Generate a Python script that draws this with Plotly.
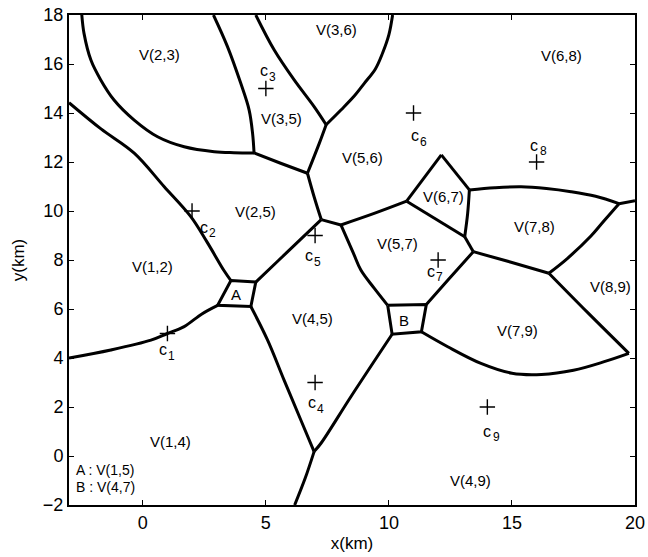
import plotly.graph_objects as go

# ---- boundary curves (x, y) in km ----
b_23_25 = [(-2.48, 18.0), (-2.39, 17.25), (-2.11, 16.16), (-1.71, 15.35), (-1.17, 14.53),
           (-0.35, 13.71), (0.6, 13.03), (1.68, 12.62), (2.9, 12.42), (3.7, 12.38), (4.52, 12.37)]
b_23_35 = [(2.87, 18.0), (3.44, 16.71), (3.98, 15.21), (4.32, 14.12), (4.46, 13.17), (4.52, 12.37)]
b_35_36 = [(4.59, 18.0), (5.34, 16.57), (6.15, 15.35), (6.96, 14.26), (7.45, 13.52)]
b_36_56 = [(7.45, 13.52), (8.05, 14.12), (8.6, 14.7), (9.0, 15.21), (9.45, 15.8),
           (9.74, 16.44), (10.0, 17.2), (10.15, 18.0)]
b_35_25 = [(4.52, 12.37), (5.6, 11.95), (6.69, 11.54)]
b_35_56 = [(7.45, 13.52), (7.17, 12.76), (6.69, 11.54)]
b_25_56 = [(6.69, 11.54), (6.96, 10.58), (7.25, 9.65)]
b_25_45 = [(7.25, 9.65), (6.42, 8.85), (5.5, 7.97), (4.59, 7.10)]
b_56_45 = [(7.25, 9.65), (8.05, 9.43)]
b_57_45 = [(8.05, 9.43), (8.56, 8.27), (8.86, 7.59), (9.4, 6.85), (9.95, 6.15)]
b_56_57 = [(8.05, 9.43), (9.4, 9.9), (10.72, 10.40)]
b_56_67 = [(10.72, 10.40), (12.13, 12.29)]
b_68_67 = [(12.13, 12.29), (13.27, 10.86)]
b_57_67 = [(10.72, 10.40), (13.08, 8.95)]
b_67_78 = [(13.27, 10.86), (13.2, 9.9), (13.08, 8.95)]
b_57_78 = [(13.08, 8.95), (13.43, 8.34)]
b_57_79 = [(13.43, 8.34), (12.40, 7.18), (11.52, 6.18)]
b_78_79 = [(13.43, 8.34), (15.0, 7.9), (16.5, 7.46)]
b_68_78 = [(13.27, 10.86), (14.3, 10.95), (15.37, 10.99), (16.4, 10.92), (17.4, 10.79),
           (18.4, 10.6), (19.35, 10.30)]
b_68_89 = [(19.35, 10.30), (20.0, 10.42)]
b_78_89 = [(19.35, 10.30), (18.7, 9.55), (18.21, 8.98), (17.26, 8.07), (16.5, 7.46)]
b_79_89 = [(16.5, 7.46), (18.08, 5.85), (19.75, 4.19)]
b_79_49 = [(19.75, 4.19), (18.75, 3.85), (17.5, 3.5), (16.2, 3.33), (15.0, 3.38),
           (13.74, 3.78), (12.39, 4.46), (11.32, 5.07)]
b_45_49 = [(10.13, 4.97), (8.46, 2.43), (7.24, 0.52), (6.96, 0.18)]
b_14_49 = [(6.96, 0.18), (6.6, -0.9), (6.17, -2.0)]
b_14_45 = [(4.39, 6.10), (5.07, 4.73), (5.74, 3.1), (6.42, 1.47), (6.96, 0.18)]
b_12_14 = [(3.04, 6.15), (2.4, 5.8), (1.68, 5.28), (1.0, 5.0), (0.33, 4.73), (-1.30, 4.33), (-3.0, 4.0)]
b_12_25 = [(3.58, 7.16), (3.31, 7.55), (2.6, 8.75), (1.95, 9.77), (0.87, 10.99),
           (-0.35, 12.36), (-1.7, 13.35), (-3.0, 14.42)]
cell_A = [(3.58, 7.16), (4.59, 7.10), (4.39, 6.10), (3.04, 6.15), (3.58, 7.16)]
cell_B = [(9.95, 6.15), (11.52, 6.18), (11.32, 5.07), (10.13, 4.97), (9.95, 6.15)]

boundaries = [b_23_25, b_23_35, b_35_36, b_36_56, b_35_25, b_35_56, b_25_56, b_25_45,
              b_56_45, b_57_45, b_56_57, b_56_67, b_68_67, b_57_67, b_67_78, b_57_78,
              b_57_79, b_78_79, b_68_78, b_68_89, b_78_89, b_79_89, b_79_49, b_45_49,
              b_14_49, b_14_45, b_12_14, b_12_25]
cells = [cell_A, cell_B]

# ---- centres ----
centre_names = ["1", "2", "3", "4", "5", "6", "7", "8", "9"]
centre_x = [1, 2, 5, 7, 7, 11, 12, 16, 14]
centre_y = [5, 10, 15, 3, 9, 14, 8, 12, 2]
centre_label_x = [0.98, 2.64, 5.08, 7.03, 6.91, 11.22, 11.87, 16.06, 14.15]
centre_label_y = [4.25, 9.25, 15.65, 2.1, 8.1, 13.0, 7.45, 12.6, 0.93]

# ---- region labels ----
region_text = ["V(2,3)", "V(3,6)", "V(3,5)", "V(6,8)", "V(5,6)", "V(2,5)", "V(1,2)",
               "V(6,7)", "V(7,8)", "V(5,7)", "V(4,5)", "A", "B", "V(8,9)", "V(7,9)",
               "V(1,4)", "V(4,9)"]
region_x = [0.66, 7.89, 5.65, 17.03, 8.94, 4.59, 0.39, 12.21, 15.93, 10.35, 6.89,
            3.78, 10.63, 19.02, 15.23, 1.14, 13.33]
region_y = [16.37, 17.39, 13.78, 16.33, 12.18, 9.98, 7.73, 10.61, 9.36, 8.68, 5.61,
            6.61, 5.55, 6.91, 5.14, 0.59, -0.98]

key_text = ["A : V(1,5)", "B : V(4,7)"]
key_y = [-0.57, -1.27]
key_x = -2.8

FONT = "Liberation Sans, Arial, Helvetica, sans-serif"

fig = go.Figure()
for seg in boundaries:
    fig.add_trace(go.Scatter(x=[p[0] for p in seg], y=[p[1] for p in seg], mode="lines",
                             line=dict(color="black", width=3, shape="spline", smoothing=1.0),
                             hoverinfo="skip", showlegend=False))
for seg in cells:
    fig.add_trace(go.Scatter(x=[p[0] for p in seg], y=[p[1] for p in seg], mode="lines",
                             line=dict(color="black", width=3), hoverinfo="skip",
                             showlegend=False))

fig.add_trace(go.Scatter(x=centre_x, y=centre_y, mode="markers",
                         marker=dict(symbol="cross-thin", size=11,
                                     line=dict(color="black", width=1.4)),
                         showlegend=False))

# centre labels: "c" with a lowered, smaller index
for n, lx, ly in zip(centre_names, centre_label_x, centre_label_y):
    fig.add_annotation(x=lx, y=ly, text="c", showarrow=False, xshift=-4, yshift=2,
                       font=dict(family=FONT, size=16, color="black"))
    fig.add_annotation(x=lx, y=ly, text=n, showarrow=False, xshift=5, yshift=-4,
                       font=dict(family=FONT, size=12, color="black"))

for t, rx, ry in zip(region_text, region_x, region_y):
    fig.add_annotation(x=rx, y=ry, text=t, showarrow=False,
                       font=dict(family=FONT, size=15, color="black"))

for t, ky in zip(key_text, key_y):
    fig.add_annotation(x=key_x, y=ky, text=t, showarrow=False, xanchor="left",
                       font=dict(family=FONT, size=14, color="black"))

axis_common = dict(showgrid=False, zeroline=False, showline=True, linecolor="black",
                   linewidth=2, mirror="ticks", ticks="inside", ticklen=5,
                   tickwidth=1.2, tickcolor="black", automargin=False,
                   tickfont=dict(family=FONT, size=18, color="black"))

fig.update_xaxes(range=[-3, 20], tickvals=[0, 5, 10, 15, 20],
                 title=dict(text="x(km)", font=dict(family=FONT, size=17, color="black"),
                            standoff=6),
                 **axis_common)
fig.update_yaxes(range=[-2, 18], tickvals=list(range(-2, 19, 2)),
                 ticktext=["\u22122"] + [str(v) for v in range(0, 19, 2)],
                 title=dict(text="y(km)", font=dict(family=FONT, size=17, color="black"),
                            standoff=14),
                 **axis_common)

fig.update_layout(width=648, height=557, margin=dict(l=69, r=13, t=15, b=52),
                  plot_bgcolor="white", paper_bgcolor="white")

fig.write_html("out.html", config={"displayModeBar": False},
               post_script="document.body.style.margin='0';")
